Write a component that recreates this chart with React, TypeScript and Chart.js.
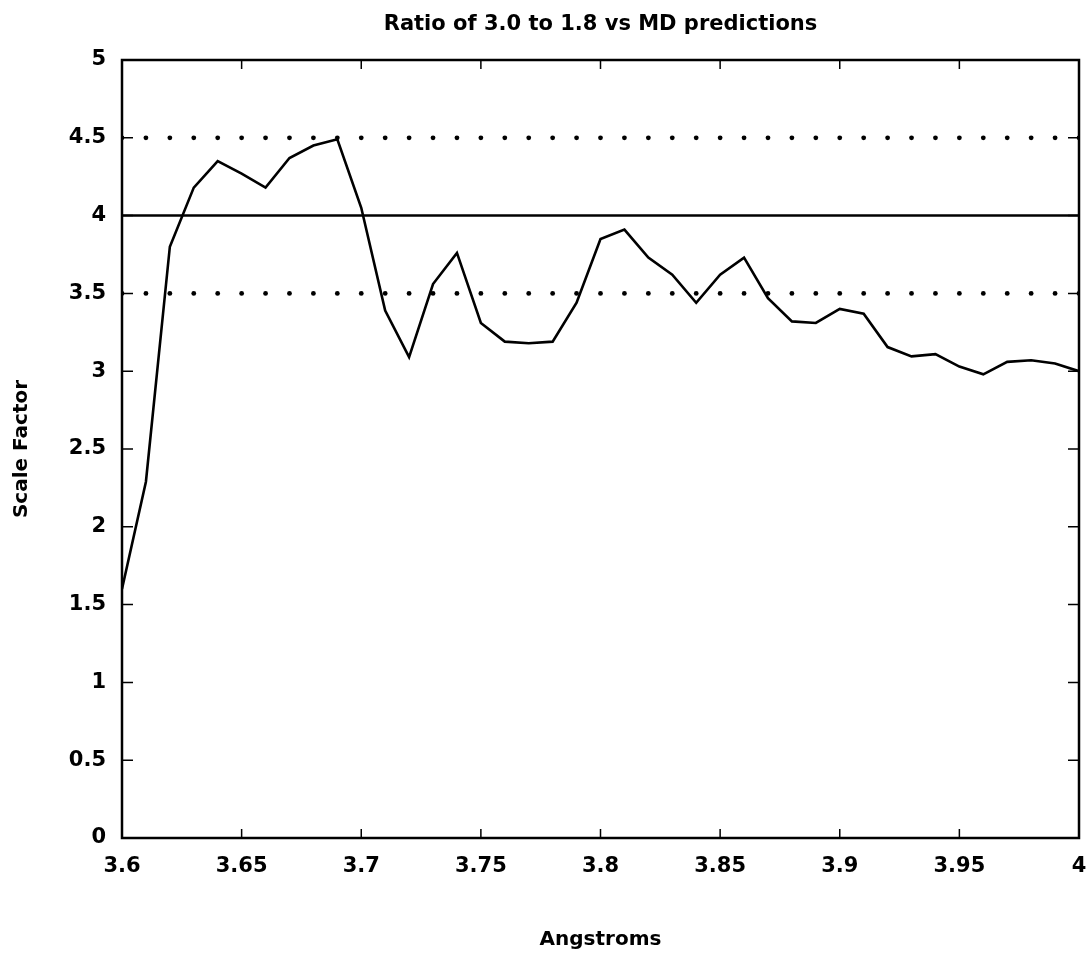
import React, { useEffect, useRef } from 'react';
import { Chart, registerables } from 'chart.js';

Chart.register(...registerables);

// Distance in Angstroms (x values)
const angstroms = [
  3.60, 3.61, 3.62, 3.63, 3.64, 3.65, 3.66, 3.67, 3.68, 3.69,
  3.70, 3.71, 3.72, 3.73, 3.74, 3.75, 3.76, 3.77, 3.78, 3.79,
  3.80, 3.81, 3.82, 3.83, 3.84, 3.85, 3.86, 3.87, 3.88, 3.89,
  3.90, 3.91, 3.92, 3.93, 3.94, 3.95, 3.96, 3.97, 3.98, 3.99,
  4.00,
];

// Ratio of 3.0 to 1.8 vs MD predictions (scale factor)
const scaleFactor = [
  1.60, 2.29, 3.80, 4.18, 4.35, 4.27, 4.18, 4.37, 4.45, 4.49,
  4.05, 3.39, 3.09, 3.56, 3.76, 3.31, 3.19, 3.18, 3.19, 3.44,
  3.85, 3.91, 3.73, 3.62, 3.44, 3.62, 3.73, 3.47, 3.32, 3.31,
  3.40, 3.37, 3.155, 3.095, 3.11, 3.03, 2.98, 3.06, 3.07, 3.05,
  3.00,
];

const xTickLabels = ['3.6', '3.65', '3.7', '3.75', '3.8', '3.85', '3.9', '3.95', '4'];
const yTickLabels = ['0', '0.5', '1', '1.5', '2', '2.5', '3', '3.5', '4', '4.5', '5'];

const solidReference = 4;
const dottedReferences = [4.5, 3.5];

const titleText = 'Ratio of 3.0 to 1.8 vs MD predictions';
const xTitle = 'Angstroms';
const yTitle = 'Scale Factor';

const FONT = "'DejaVu Sans', sans-serif";

const framePlugin = {
  id: 'frameTicks',
  afterDatasetsDraw(chart: any) {
    const { ctx, chartArea, scales } = chart;
    const { left, right, top, bottom } = chartArea;
    const x = scales.x;
    const y = scales.y;
    ctx.save();
    ctx.strokeStyle = '#000';
    ctx.lineWidth = 2.5;
    ctx.strokeRect(left, top, right - left, bottom - top);
    ctx.lineWidth = 1.5;
    ctx.beginPath();
    x.ticks.forEach((t: any) => {
      const px = x.getPixelForValue(t.value);
      ctx.moveTo(px, bottom);
      ctx.lineTo(px, bottom - 9);
      ctx.moveTo(px, top);
      ctx.lineTo(px, top + 9);
    });
    y.ticks.forEach((t: any) => {
      const py = y.getPixelForValue(t.value);
      ctx.moveTo(left, py);
      ctx.lineTo(left + 11, py);
      ctx.moveTo(right, py);
      ctx.lineTo(right - 11, py);
    });
    ctx.stroke();
    ctx.restore();
  },
};

export default function App() {
  const canvasRef = useRef<HTMLCanvasElement | null>(null);

  useEffect(() => {
    document.body.style.margin = '0';
    document.body.style.overflow = 'hidden';
    const canvas = canvasRef.current;
    if (!canvas) return;

    const mainData = angstroms.map((a, i) => ({ x: a, y: scaleFactor[i] }));
    const solidData = [
      { x: angstroms[0], y: solidReference },
      { x: angstroms[angstroms.length - 1], y: solidReference },
    ];
    const dottedSets = dottedReferences.map((v) => ({
      type: 'scatter' as const,
      data: angstroms.map((a) => ({ x: a, y: v })),
      showLine: false,
      pointRadius: 2.4,
      pointHoverRadius: 2.4,
      backgroundColor: '#000',
      borderColor: '#000',
      borderWidth: 0,
    }));

    const chart = new Chart(canvas, {
      type: 'line',
      data: {
        datasets: [
          {
            data: mainData,
            borderColor: '#000',
            borderWidth: 2.6,
            pointRadius: 0,
            tension: 0,
            fill: false,
          },
          {
            data: solidData,
            borderColor: '#000',
            borderWidth: 2.5,
            pointRadius: 0,
            fill: false,
          },
          ...(dottedSets as any[]),
        ],
      },
      options: {
        animation: false,
        responsive: false,
        events: [],
        layout: { padding: { left: 0, right: 9, top: 0, bottom: 0 } },
        plugins: {
          legend: { display: false },
          tooltip: { enabled: false },
          title: { display: false },
        },
        scales: {
          x: {
            type: 'linear',
            min: 3.6,
            max: 4.0,
            grid: { display: false, drawTicks: false },
            border: { display: false },
            ticks: {
              stepSize: 0.05,
              padding: 16,
              color: '#000',
              maxRotation: 0,
              autoSkip: false,
              font: { family: FONT, size: 21, weight: 'bold' },
              callback: (_v: any, i: number) => xTickLabels[i],
            },
            title: {
              display: true,
              text: xTitle,
              color: '#000',
              font: { family: FONT, size: 20, weight: 'bold' },
              padding: { top: 0, bottom: 6 },
            },
            afterFit: (scale: any) => {
              scale.height = 120;
              scale.paddingLeft = 0;
              scale.paddingRight = 0;
            },
          },
          xTop: {
            type: 'linear',
            position: 'top',
            min: 3.6,
            max: 4.0,
            grid: { display: false, drawTicks: false },
            border: { display: false },
            ticks: { display: false },
            title: {
              display: true,
              text: titleText,
              color: '#000',
              font: { family: FONT, size: 21, weight: 'bold' },
              padding: { top: 12, bottom: 0 },
            },
            afterFit: (scale: any) => {
              scale.height = 60;
              scale.paddingLeft = 0;
              scale.paddingRight = 0;
            },
          },
          y: {
            type: 'linear',
            min: 0,
            max: 5,
            grid: { display: false, drawTicks: false },
            border: { display: false },
            ticks: {
              stepSize: 0.5,
              padding: 16,
              color: '#000',
              autoSkip: false,
              font: { family: FONT, size: 21, weight: 'bold' },
              callback: (_v: any, i: number) => yTickLabels[i],
            },
            title: {
              display: true,
              text: yTitle,
              color: '#000',
              font: { family: FONT, size: 20, weight: 'bold' },
              padding: { top: 10, bottom: 0 },
            },
            afterFit: (scale: any) => {
              scale.width = 122;
              scale.paddingTop = 0;
              scale.paddingBottom = 0;
            },
          },
        },
      },
      plugins: [framePlugin],
    });

    return () => {
      chart.destroy();
    };
  }, []);

  return (
    <div style={{ position: 'absolute', left: 0, top: 0, width: 1088, height: 958, background: '#fff' }}>
      <canvas ref={canvasRef} width={1088} height={958} style={{ display: 'block' }} />
    </div>
  );
}
